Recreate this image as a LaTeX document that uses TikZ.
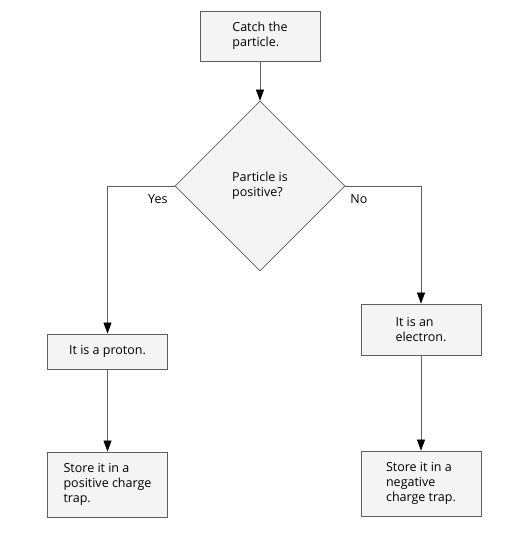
\documentclass[tikz,border=0pt]{standalone}
\usepackage{fontspec}
\setmainfont{Open Sans}
\usepackage{tikz}
\usetikzlibrary{arrows,arrows.meta,positioning,shapes.geometric}
\definecolor{boxfill}{HTML}{F4F4F4}
\definecolor{boxline}{HTML}{5E5E5E}
\tikzset{
    %Define standard arrow tip
    >={Triangle[length=11pt,width=8pt,color=black]},
    %Define style for boxes
    punktrect/.style={
    rectangle,
    fill=boxfill,
    draw=boxline, thick,
    font=\fontsize{12.5}{15}\selectfont,
    align=left,
    minimum width=120pt,
    inner sep=0pt},
    punktdia/.style={
    diamond,
    fill=boxfill,
    draw=boxline, semithick,
    font=\fontsize{12.5}{15}\selectfont,
    align=left,
    minimum width=170pt,
    minimum height=170pt,
    inner sep=0pt},
    % Define style for edge labels
    etikett/.style={
    text=black,
    font=\fontsize{12.5}{15}\selectfont},
    % Define arrow style
    pil/.style={
           ->,
           draw=boxline,
           semithick}
}
\begin{document}
\begin{tikzpicture}[x=1pt,y=-1pt]
\useasboundingbox (0,0) rectangle (514,545);
\node[punktrect, minimum height=50pt](catch) at (260,36){Catch the\\particle.};
\node[punktdia](ispos) at (260,186){Particle is\\positive?};
\node[punktrect, minimum height=35pt](proton) at (107.5,351.5){It is a proton.};
\node[punktrect, minimum height=51pt](electron) at (421,329.5){It is an\\electron.};
\node[punktrect, minimum height=65pt](storepos) at (107.5,484.5){Store it in a\\positive charge\\trap.};
\node[punktrect, minimum height=65pt](storeneg) at (421,483.5){Store it in a\\negative\\charge trap.};
\path[pil]
    (catch) edge (ispos)
    (proton) edge (storepos)
    (electron) edge (storeneg);
\draw[pil] (ispos.west) -- node[pos=0.25, below=5pt, etikett]{Yes} (107.5,186) -- (proton.north);
\draw[pil] (ispos.east) -- node[pos=0.18, below=5pt, etikett]{No} (421,186) -- (electron.north);
\end{tikzpicture}
\end{document}
